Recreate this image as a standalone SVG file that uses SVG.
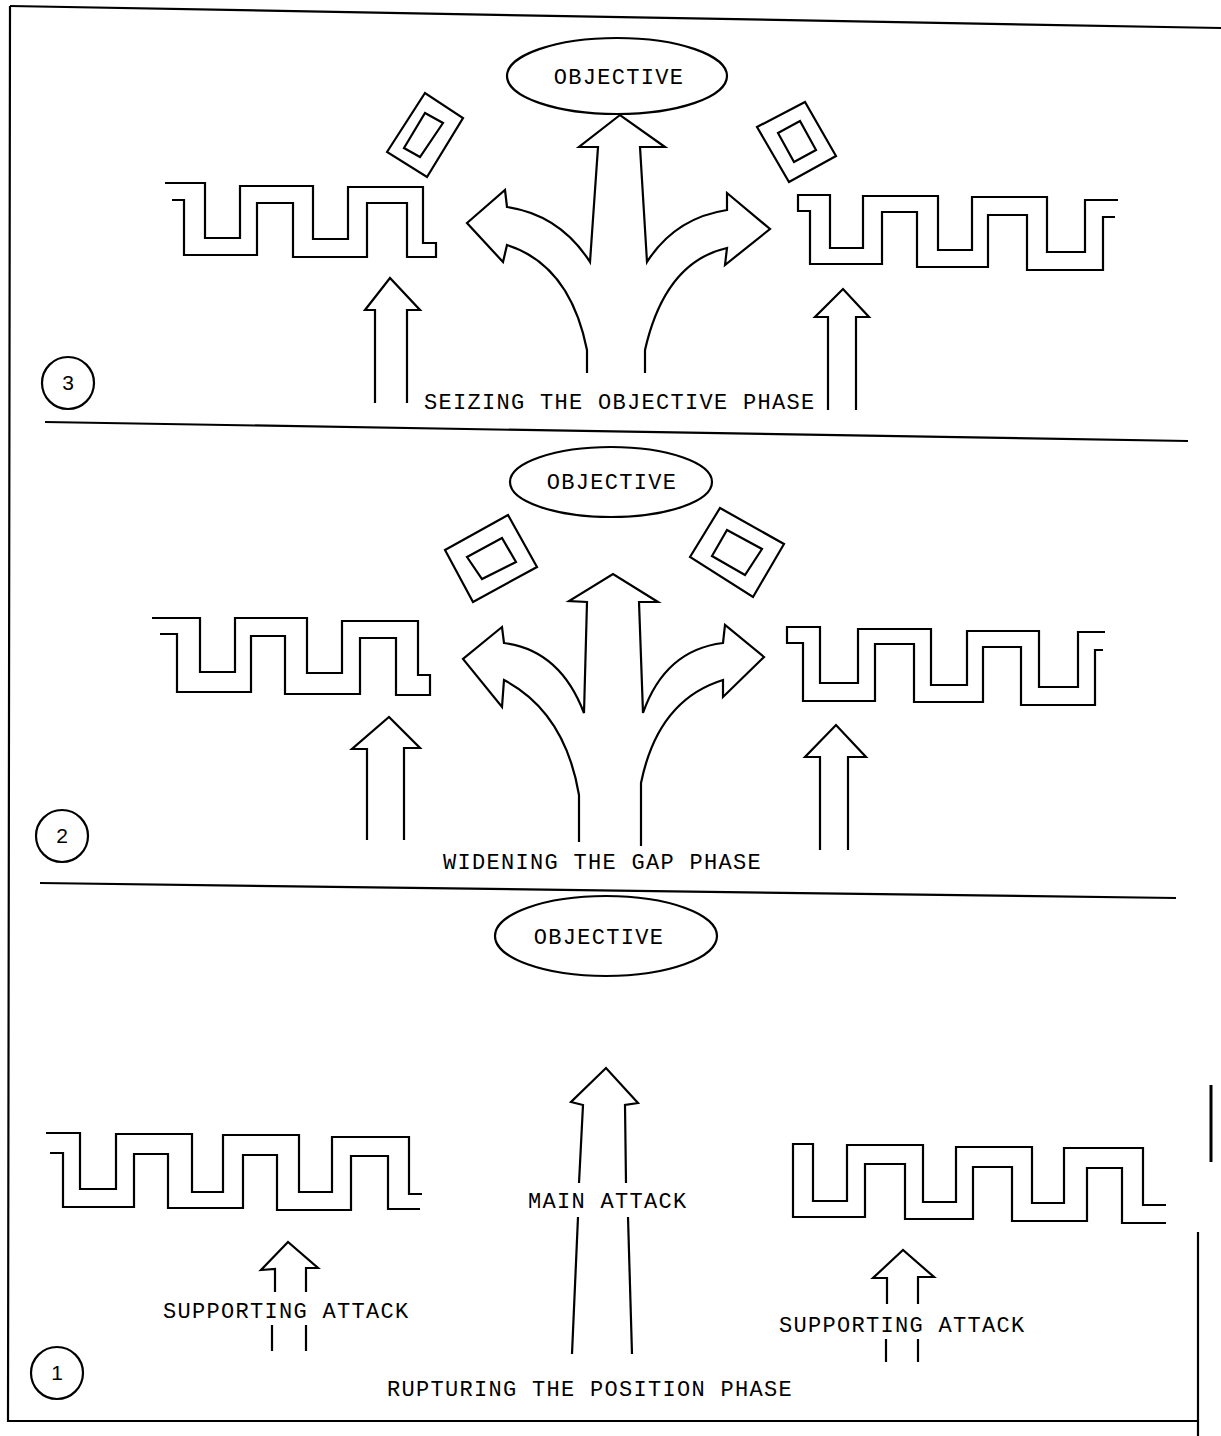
<svg xmlns="http://www.w3.org/2000/svg" width="1221" height="1436" viewBox="0 0 1221 1436">
<style>
.ln{fill:none;stroke:#000;stroke-width:2.2;stroke-linejoin:miter;stroke-linecap:butt}
.ov{fill:#fff;stroke:#000;stroke-width:2.2}
.t{font-family:"Liberation Mono","Courier New",monospace;font-size:22px;letter-spacing:1.3px;fill:#000}
.n{font-family:"Liberation Sans",Arial,sans-serif;font-size:21px;fill:#000;text-anchor:middle}
</style>
<rect width="1221" height="1436" fill="#fff"/>
<g id="frame" class="ln">
<polyline points="10,6 1221,28"/>
<polyline points="10,6 8,1421 1197,1421"/>
<polyline points="1198,1232 1198,1436"/>
<polyline points="1211,1085 1211,1162" stroke-width="3"/>
<polyline points="45,422 1188,441"/>
<polyline points="40,883 1176,898"/>
</g>
<!-- PANEL 3 -->
<g id="p3-objective">
<ellipse class="ov" cx="617" cy="76" rx="110" ry="38"/>
<text class="t" x="619" y="84" text-anchor="middle">OBJECTIVE</text>
</g>
<g id="p3-left-trench"><polyline class="ln" points="165,183 205,183 205,238 240,238 240,186 313,186 313,239 348,239 348,187 423,187 423,243 436,243 436,257 407,257 407,203 367,203 367,257 293,257 293,203 257,203 257,255 184,255 184,200 172,200"/></g>
<g id="p3-right-trench"><polyline class="ln" points="1118,200 1085,200 1085,252 1047,252 1047,197 972,197 972,250 938,250 938,196 863,196 863,248 830,248 830,195 798,195 798,211 810,211 810,264 882,264 882,212 917,212 917,267 988,267 988,215 1027,215 1027,270 1103,270 1103,217 1115,217"/></g>
<g id="p3-left-fort">
<polygon class="ln" points="387,152 425,93 463,118 427,177"/>
<polygon class="ln" points="404,148 425,113 443,123 420,157"/>
</g>
<g id="p3-right-fort">
<polygon class="ln" points="757,127 805,102 836,156 789,182"/>
<polygon class="ln" points="778,133 800,121 816,150 794,162"/>
</g>
<g id="p3-left-support"><polyline class="ln" points="375,403 375,310 365,310 390,278 420,310 407,310 407,403"/></g>
<g id="p3-right-support"><polyline class="ln" points="828,410 828,317 815,317 843,289 869,317 856,317 856,410"/></g>
<g id="p3-main-attack"><path class="ln" d="M587,373 L587,350 Q570,265 507,245 L503,262 L467,223 L505,190 L507,207 Q560,215 590,262 L598,147 L579,147 L620,115 L665,147 L640,147 L647,262 Q675,218 727,210 L727,193 L770,229 L725,265 L727,248 Q665,262 645,350 L645,373"/></g>
<g id="p3-label"><text class="t" x="424" y="409">SEIZING THE OBJECTIVE PHASE</text></g>
<g id="p3-num"><circle class="ov" cx="68" cy="383" r="26"/><text class="n" x="68" y="390">3</text></g>
<!-- PANEL 2 -->
<g id="p2-objective">
<ellipse class="ov" cx="611" cy="482" rx="101" ry="35"/>
<text class="t" x="612" y="489" text-anchor="middle">OBJECTIVE</text>
</g>
<g id="p2-left-trench"><polyline class="ln" points="152,618 200,618 200,672 235,672 235,618 307,618 307,673 342,673 342,621 418,621 418,675 430,675 430,695 396,695 396,638 360,638 360,694 285,694 285,636 251,636 251,692 177,692 177,634 160,634"/></g>
<g id="p2-right-trench"><polyline class="ln" points="1105,632 1078,632 1078,687 1039,687 1039,631 967,631 967,685 931,685 931,629 858,629 858,683 820,683 820,627 787,627 787,643 803,643 803,701 875,701 875,644 914,644 914,702 983,702 983,647 1021,647 1021,705 1095,705 1095,650 1103,650"/></g>
<g id="p2-left-fort">
<polygon class="ln" points="445,550 508,515 537,567 473,602"/>
<polygon class="ln" points="467,557 502,538 516,562 482,579"/>
</g>
<g id="p2-right-fort">
<polygon class="ln" points="690,557 720,508 784,544 753,597"/>
<polygon class="ln" points="712,556 727,530 762,549 745,575"/>
</g>
<g id="p2-left-support"><polyline class="ln" points="367,840 367,749 352,749 389,717 420,748 404,748 404,840"/></g>
<g id="p2-right-support"><polyline class="ln" points="820,850 820,757 805,757 836,725 866,757 848,757 848,850"/></g>
<g id="p2-main-attack"><path class="ln" d="M579,842 L579,795 Q565,712 504,680 L502,707 L463,659 L502,627 L504,643 Q560,650 584,713 L587,602 L569,601 L613,574 L658,602 L639,602 L643,713 Q665,650 723,643 L725,625 L764,657 L723,697 L723,680 Q658,700 641,783 L641,846"/></g>
<g id="p2-label"><text class="t" x="443" y="869">WIDENING THE GAP PHASE</text></g>
<g id="p2-num"><circle class="ov" cx="62" cy="836" r="26"/><text class="n" x="62" y="843">2</text></g>
<!-- PANEL 1 -->
<g id="p1-objective">
<ellipse class="ov" cx="606" cy="936" rx="111" ry="40"/>
<text class="t" x="599" y="944" text-anchor="middle">OBJECTIVE</text>
</g>
<g id="p1-left-trench" class="ln">
<polyline points="46,1133 80,1133 80,1189 116,1189 116,1134 192,1134 192,1192 223,1192 223,1135 299,1135 299,1192 332,1192 332,1137 409,1137 409,1194 422,1194"/>
<polyline points="50,1153 63,1153 63,1207 134,1207 134,1154 168,1154 168,1208 243,1208 243,1155 277,1155 277,1210 351,1210 351,1156 388,1156 388,1209 420,1209"/>
</g>
<g id="p1-right-trench"><polyline class="ln" points="1166,1205 1143,1205 1143,1148 1064,1148 1064,1203 1032,1203 1032,1147 956,1147 956,1202 923,1202 923,1145 847,1145 847,1201 813,1201 813,1144 793,1144 793,1217 865,1217 865,1164 905,1164 905,1219 973,1219 973,1167 1012,1167 1012,1221 1087,1221 1087,1168 1122,1168 1122,1223 1166,1223"/></g>
<g id="p1-main-attack" class="ln">
<polyline points="579,1183 583,1105 571,1102 606,1068 638,1103 625,1105 626,1183"/>
<polyline points="578,1217 572,1354"/>
<polyline points="628,1217 632,1354"/>
<text class="t" x="528" y="1208" stroke="none">MAIN ATTACK</text>
</g>
<g id="p1-left-support" class="ln">
<polyline points="275,1292 275,1269 261,1270 288,1242 318,1268 306,1268 306,1292"/>
<polyline points="272,1325 272,1351"/>
<polyline points="306,1325 306,1351"/>
<text class="t" x="163" y="1318" stroke="none">SUPPORTING ATTACK</text>
</g>
<g id="p1-right-support" class="ln">
<polyline points="887,1304 887,1278 873,1278 903,1250 934,1277 918,1277 918,1304"/>
<polyline points="886,1339 886,1362"/>
<polyline points="918,1339 918,1362"/>
<text class="t" x="779" y="1332" stroke="none">SUPPORTING ATTACK</text>
</g>
<g id="p1-label"><text class="t" x="387" y="1396">RUPTURING THE POSITION PHASE</text></g>
<g id="p1-num"><circle class="ov" cx="57" cy="1373" r="26"/><text class="n" x="57" y="1380">1</text></g>
</svg>
